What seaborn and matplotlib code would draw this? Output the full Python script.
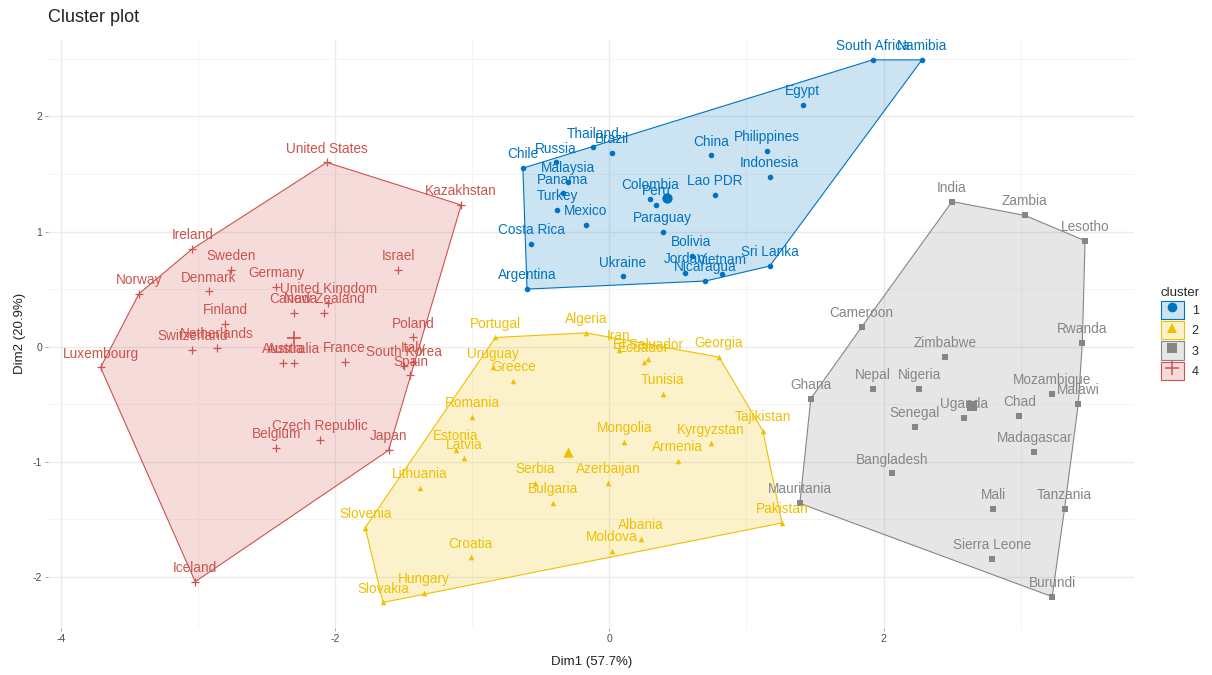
import numpy as np
import pandas as pd
import matplotlib
matplotlib.use("Agg")
import matplotlib.pyplot as plt
import seaborn as sns
from matplotlib.patches import Patch
from matplotlib.lines import Line2D

sns.set_theme(style="white")
plt.rcParams['font.family'] = ['Liberation Sans', 'DejaVu Sans']
plt.rcParams['axes.unicode_minus'] = False

# =====================================
# Data
# =====================================

c1_names = ["South Africa", "Namibia", "Egypt", "Philippines", "Indonesia", "China",
            "Lao PDR", "Thailand", "Brazil", "Chile", "Russia", "Malaysia", "Panama",
            "Turkey", "Mexico", "Costa Rica", "Argentina", "Ukraine", "Paraguay",
            "Colombia", "Peru", "Bolivia", "Jordan", "Vietnam", "Nicaragua", "Sri Lanka"]
c1_x = [1.92, 2.28, 1.41, 1.15, 1.17, 0.74, 0.77, -0.12, 0.02, -0.63, -0.39, -0.30, -0.34,
        -0.38, -0.17, -0.57, -0.60, 0.10, 0.39, 0.30, 0.34, 0.60, 0.55, 0.82, 0.70, 1.17]
c1_y = [2.49, 2.49, 2.10, 1.70, 1.47, 1.66, 1.32, 1.73, 1.68, 1.55, 1.60, 1.43, 1.33,
        1.19, 1.06, 0.89, 0.50, 0.61, 1.00, 1.28, 1.23, 0.79, 0.64, 0.63, 0.57, 0.70]

c2_names = ["Portugal", "Algeria", "Iran", "Ecuador", "El Salvador", "Georgia", "Uruguay",
            "Greece", "Tunisia", "Romania", "Estonia", "Latvia", "Lithuania", "Mongolia",
            "Kyrgyzstan", "Armenia", "Tajikistan", "Serbia", "Bulgaria", "Azerbaijan",
            "Pakistan", "Slovenia", "Croatia", "Moldova", "Albania", "Hungary", "Slovakia"]
c2_x = [-0.83, -0.17, 0.07, 0.25, 0.28, 0.80, -0.85, -0.70, 0.39, -1.00, -1.12, -1.06, -1.38,
        0.11, 0.74, 0.50, 1.12, -0.54, -0.41, -0.01, 1.26, -1.78, -1.01, 0.02, 0.23, -1.35, -1.65]
c2_y = [0.08, 0.12, -0.03, -0.13, -0.11, -0.09, -0.18, -0.30, -0.41, -0.61, -0.90, -0.97, -1.23,
        -0.83, -0.84, -0.99, -0.73, -1.18, -1.36, -1.18, -1.53, -1.57, -1.83, -1.77, -1.67,
        -2.14, -2.22]

c3_names = ["India", "Zambia", "Lesotho", "Cameroon", "Rwanda", "Zimbabwe", "Nepal", "Nigeria",
            "Ghana", "Mozambique", "Malawi", "Uganda", "Chad", "Senegal", "Madagascar",
            "Bangladesh", "Mauritania", "Mali", "Tanzania", "Sierra Leone", "Burundi"]
c3_x = [2.50, 3.03, 3.47, 1.84, 3.45, 2.45, 1.92, 2.26, 1.47, 3.23, 3.42, 2.59, 2.99, 2.23,
        3.10, 2.06, 1.39, 2.80, 3.32, 2.79, 3.23]
c3_y = [1.26, 1.14, 0.92, 0.17, 0.03, -0.09, -0.37, -0.37, -0.45, -0.41, -0.50, -0.62, -0.60,
        -0.70, -0.91, -1.10, -1.36, -1.41, -1.41, -1.84, -2.17]

c4_names = ["United States", "Kazakhstan", "Ireland", "Sweden", "Norway", "Denmark", "Germany",
            "United Kingdom", "Canada", "New Zealand", "Finland", "Switzerland", "Netherlands",
            "Luxembourg", "Australia", "Austria", "France", "Israel", "Poland", "South Korea",
            "Italy", "Spain", "Czech Republic", "Belgium", "Japan", "Iceland"]
c4_x = [-2.06, -1.08, -3.04, -2.76, -3.43, -2.92, -2.43, -2.05, -2.30, -2.08, -2.80, -3.04,
        -2.86, -3.71, -2.30, -2.38, -1.93, -1.54, -1.43, -1.50, -1.43, -1.45, -2.11, -2.43,
        -1.61, -3.02]
c4_y = [1.60, 1.23, 0.85, 0.67, 0.46, 0.48, 0.52, 0.38, 0.29, 0.29, 0.20, -0.03, -0.01,
        -0.18, -0.14, -0.14, -0.13, 0.67, 0.08, -0.17, -0.13, -0.25, -0.81, -0.88, -0.90, -2.04]

clusters = ["1", "2", "3", "4"]
colors = ["#0073C2", "#EFC000", "#868686", "#CD534C"]
markers = ["o", "^", "s", "+"]

df = pd.concat([
    pd.DataFrame({"name": c1_names, "Dim1": c1_x, "Dim2": c1_y, "cluster": "1"}),
    pd.DataFrame({"name": c2_names, "Dim1": c2_x, "Dim2": c2_y, "cluster": "2"}),
    pd.DataFrame({"name": c3_names, "Dim1": c3_x, "Dim2": c3_y, "cluster": "3"}),
    pd.DataFrame({"name": c4_names, "Dim1": c4_x, "Dim2": c4_y, "cluster": "4"}),
], ignore_index=True)


def convex_hull(pts):
    # monotone chain
    pts = sorted(map(tuple, pts))
    def cross(o, a, b):
        return (a[0] - o[0]) * (b[1] - o[1]) - (a[1] - o[1]) * (b[0] - o[0])
    lower, upper = [], []
    for p in pts:
        while len(lower) >= 2 and cross(lower[-2], lower[-1], p) <= 0:
            lower.pop()
        lower.append(p)
    for p in reversed(pts):
        while len(upper) >= 2 and cross(upper[-2], upper[-1], p) <= 0:
            upper.pop()
        upper.append(p)
    return np.array(lower[:-1] + upper[:-1])


# =====================================
# Plot
# =====================================

fig, ax = plt.subplots(figsize=(12.12, 6.75), dpi=100)
fig.subplots_adjust(left=0.040, right=0.936, top=0.942, bottom=0.070)

for cl, col, mk in zip(clusters, colors, markers):
    sub = df[df["cluster"] == cl]
    hull = convex_hull(sub[["Dim1", "Dim2"]].values)
    ax.fill(hull[:, 0], hull[:, 1], facecolor=col, alpha=0.2, edgecolor="none", zorder=1)
    ax.fill(hull[:, 0], hull[:, 1], facecolor="none", edgecolor=col, linewidth=0.8, zorder=2)
    if mk == "+":
        sns.scatterplot(data=sub, x="Dim1", y="Dim2", color=col, marker=mk, s=30,
                        linewidth=0.9, ax=ax, zorder=3, legend=False)
    else:
        sns.scatterplot(data=sub, x="Dim1", y="Dim2", color=col, marker=mk, s=16,
                        linewidth=0, ax=ax, zorder=3, legend=False)
    # cluster centre
    cx, cy = sub["Dim1"].mean(), sub["Dim2"].mean()
    if mk == "+":
        ax.scatter([cx], [cy], color=col, marker=mk, s=110, linewidths=1.2, zorder=3)
    else:
        ax.scatter([cx], [cy], color=col, marker=mk, s=55, linewidths=0, zorder=3)
    for _, r in sub.iterrows():
        ax.annotate(r["name"], (r["Dim1"], r["Dim2"]), xytext=(0, 10),
                    textcoords="offset points", ha="center", va="center",
                    fontsize=9.8, color=col, zorder=4)

ax.set_xlim(-4.09, 3.83)
ax.set_ylim(-2.44, 2.67)
ax.set_xticks([-4, -2, 0, 2])
ax.set_yticks([-2, -1, 0, 1, 2])
ax.set_xticks([-3, -1, 1, 3], minor=True)
ax.set_yticks([-1.5, -0.5, 0.5, 1.5, 2.5], minor=True)
ax.grid(True, which="major", color="#EBEBEB", linewidth=1.0, zorder=0)
ax.grid(True, which="minor", color="#F3F3F3", linewidth=0.6, zorder=0)
ax.set_axisbelow(True)
for s in ax.spines.values():
    s.set_visible(False)
ax.tick_params(axis="both", which="major", length=2.5, width=0.6, color="#9A9A9A",
               labelsize=7.5, labelcolor="#4D4D4D", pad=2, bottom=True, left=True)
ax.tick_params(axis="both", which="minor", length=0)

ax.set_xlabel("Dim1 (57.7%)", fontsize=9.5, color="#222222", labelpad=9)
ax.set_ylabel("Dim2 (20.9%)", fontsize=9.5, color="#222222", labelpad=5)
ax.set_title("Cluster plot", loc="left", fontsize=13, color="#222222", pad=12)

handles = []
for col, mk in zip(colors, markers):
    patch = Patch(facecolor=matplotlib.colors.to_rgba(col, 0.2), edgecolor=col, linewidth=0.8)
    pt = Line2D([], [], color=col, marker=mk, linestyle="none",
                markersize=7 if mk != "+" else 10, markeredgewidth=1.1 if mk == "+" else 0)
    handles.append((patch, pt))
leg = ax.legend(handles, clusters, title="cluster", loc="center left",
                bbox_to_anchor=(1.016, 0.5), frameon=False, fontsize=9,
                title_fontsize=9.5, handlelength=1.9, handleheight=1.9,
                labelspacing=0.15, handletextpad=0.6, borderaxespad=0.3)
leg._legend_box.align = "left"

plt.savefig("out.png", dpi=100)
